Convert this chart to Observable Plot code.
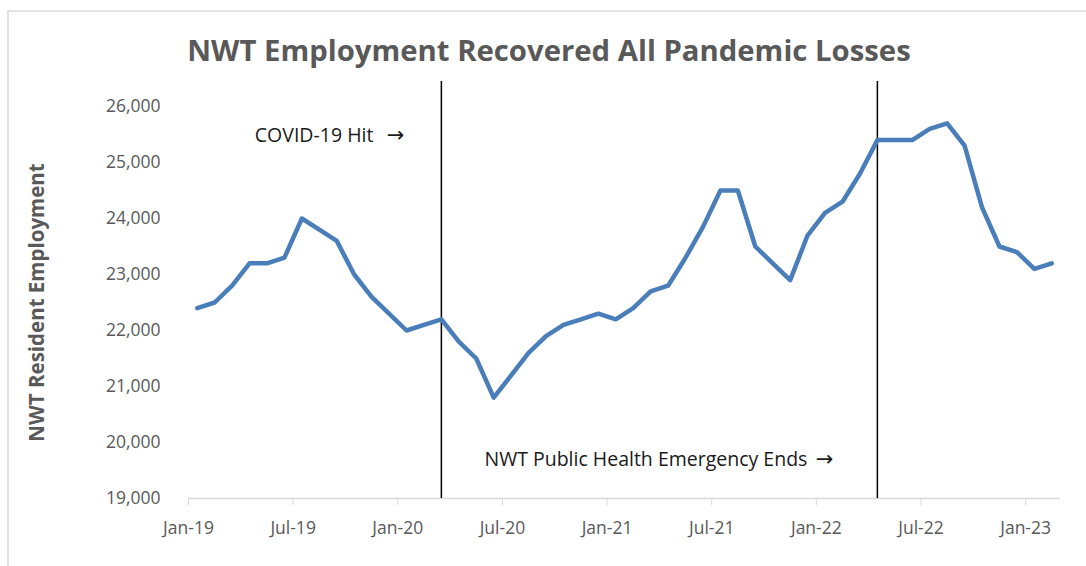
<!DOCTYPE html>
<html>
<head>
<meta charset="utf-8">
<script src="https://cdn.jsdelivr.net/npm/d3@7"></script>
<script src="https://cdn.jsdelivr.net/npm/@observablehq/plot@0.6"></script>
<style>
  html, body { margin: 0; padding: 0; background: #fff; width: 1086px; height: 566px; overflow: hidden; }
  #wrap { position: relative; width: 1086px; height: 566px; }
  #frame { position: absolute; left: 7px; top: 10px; width: 1100px; height: 600px; border: 2px solid #e3e3e3; box-sizing: border-box; }
  #title { position: absolute; top: 36px; left: 549px; transform: translateX(-50%); white-space: nowrap;
           font-family: "Open Sans", sans-serif; font-weight: bold; font-size: 29.3px; line-height: 29px; color: #595959; }
  #chart { position: absolute; left: 0; top: 0; }
</style>
</head>
<body>
<div id="wrap">
  <div id="frame"></div>
  <div id="chart"></div>
  <div id="title">NWT Employment Recovered All Pandemic Losses</div>
</div>
<script>
const months = [
  "Jan-19","Feb-19","Mar-19","Apr-19","May-19","Jun-19","Jul-19","Aug-19","Sep-19","Oct-19","Nov-19","Dec-19",
  "Jan-20","Feb-20","Mar-20","Apr-20","May-20","Jun-20","Jul-20","Aug-20","Sep-20","Oct-20","Nov-20","Dec-20",
  "Jan-21","Feb-21","Mar-21","Apr-21","May-21","Jun-21","Jul-21","Aug-21","Sep-21","Oct-21","Nov-21","Dec-21",
  "Jan-22","Feb-22","Mar-22","Apr-22","May-22","Jun-22","Jul-22","Aug-22","Sep-22","Oct-22","Nov-22","Dec-22",
  "Jan-23","Feb-23"
];
const employment = [
  22400, 22500, 22800, 23200, 23200, 23300, 24000, 23800, 23600, 23000, 22600, 22300,
  22000, 22100, 22200, 21800, 21500, 20800, 21200, 21600, 21900, 22100, 22200, 22300,
  22200, 22400, 22700, 22800, 23300, 23850, 24500, 24500, 23500, 23200, 22900, 23700,
  24100, 24300, 24800, 25400, 25400, 25400, 25600, 25700, 25300, 24200, 23500, 23400,
  23100, 23200
];
const xTickLabels = ["Jan-19","Jul-19","Jan-20","Jul-20","Jan-21","Jul-21","Jan-22","Jul-22","Jan-23"];
const yTickValues = [19000, 20000, 21000, 22000, 23000, 24000, 25000, 26000];
const eventMonths = ["Mar-20", "Apr-22"];
const eventLabels = ["COVID-19 Hit", "NWT Public Health Emergency Ends"];
const arrow = "\u2192";
const yLabel = "NWT Resident Employment";

const data = months.map((m, i) => ({month: m, pos: i + 0.5, value: employment[i]}));
const eventPos = eventMonths.map(m => months.indexOf(m) + 0.5);
const xTickPos = xTickLabels.map(m => months.indexOf(m));

const font = "'Open Sans', sans-serif";
const arrowFont = "'DejaVu Sans', sans-serif";

const chart = Plot.plot({
  width: 1086,
  height: 566,
  marginLeft: 188,
  marginRight: 26,
  marginTop: 106,
  marginBottom: 68,
  style: {fontFamily: font, fontSize: "17.5px", color: "#595959", background: "transparent", overflow: "visible"},
  x: {type: "linear", domain: [0, months.length], label: null},
  y: {domain: [19000, 26000], label: null},
  marks: [
    Plot.axisX({ticks: xTickPos, tickFormat: i => months[i], tickSize: 7, tickPadding: 16,
                stroke: "#d9d9d9", strokeOpacity: 1, fill: "#595959", label: null}),
    Plot.axisY({ticks: yTickValues, tickFormat: d3.format(","), tickSize: 0, tickPadding: 28, fill: "#595959", label: null}),
    Plot.ruleY([19000], {stroke: "#d9d9d9", strokeWidth: 1.5}),
    Plot.ruleX(eventPos, {x: d => d, stroke: "#000", strokeWidth: 1.5, insetTop: -25}),
    Plot.line(data, {x: "pos", y: "value", stroke: "#4a7ebb", strokeWidth: 4.5, strokeLinejoin: "round", strokeLinecap: "round"}),
    Plot.text([eventLabels[0]], {x: eventPos[0], frameAnchor: "top", lineAnchor: "middle", dy: 29, dx: -68, textAnchor: "end",
                                 fill: "#1a1a1a", fontSize: 19.5}),
    Plot.text([arrow], {x: eventPos[0], frameAnchor: "top", lineAnchor: "middle", dy: 29, dx: -37, textAnchor: "end",
                        fill: "#1a1a1a", fontSize: 21, fontFamily: arrowFont}),
    Plot.text([eventLabels[1]], {x: eventPos[1], frameAnchor: "bottom", lineAnchor: "middle", dy: -39, dx: -70, textAnchor: "end",
                                 fill: "#1a1a1a", fontSize: 19.5}),
    Plot.text([arrow], {x: eventPos[1], frameAnchor: "bottom", lineAnchor: "middle", dy: -39, dx: -44, textAnchor: "end",
                        fill: "#1a1a1a", fontSize: 21, fontFamily: arrowFont}),
    Plot.text([yLabel], {frameAnchor: "left", lineAnchor: "middle", rotate: -90, dx: -151, dy: 0, fontWeight: "bold", fontSize: 20.5,
                         fill: "#595959", textAnchor: "middle"})
  ]
});
document.getElementById("chart").appendChild(chart);
</script>
</body>
</html>
